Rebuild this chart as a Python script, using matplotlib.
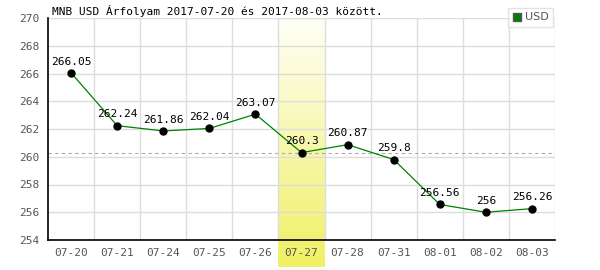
import matplotlib
matplotlib.use("Agg")
import matplotlib.pyplot as plt
import numpy as np
from matplotlib.transforms import blended_transform_factory
from matplotlib.lines import Line2D

categories = ["07-20", "07-21", "07-24", "07-25", "07-26", "07-27", "07-28", "07-31", "08-01", "08-02", "08-03"]
values = [266.05, 262.24, 261.86, 262.04, 263.07, 260.3, 260.87, 259.8, 256.56, 256, 256.26]
labels = ["266.05", "262.24", "261.86", "262.04", "263.07", "260.3", "260.87", "259.8", "256.56", "256", "256.26"]
highlight_index = 5
reference_value = 260.3
yticks = [254, 256, 258, 260, 262, 264, 266, 268, 270]
title = "MNB USD Árfolyam 2017-07-20 és 2017-08-03 között."

mono = "DejaVu Sans Mono"
fig = plt.figure(figsize=(6, 2.7), dpi=100)
ax = fig.add_axes([48/600, 30/270, 507/600, 222/270])
x = np.arange(len(categories))

ax.set_xlim(-0.5, len(categories) - 0.5)
ax.set_ylim(254, 270)

# highlight band with vertical gradient, extending below axes
trans = blended_transform_factory(ax.transData, ax.transAxes)
grad = np.linspace(0, 1, 256).reshape(-1, 1)
top = np.array([1.0, 1.0, 0.97])
bot = np.array([240/255, 240/255, 100/255])
img = top + (bot - top) * grad[:, :, None] * np.ones((1, 1, 3))
ax.imshow(img, extent=(highlight_index - 0.5, highlight_index + 0.5, -27/222, 1.0),
          transform=trans, aspect="auto", clip_on=False, zorder=0, origin="upper")

# grid
for b in np.arange(0.5, len(categories) - 0.5, 1.0):
    ax.axvline(b, color="#dddddd", lw=1, zorder=1)
ax.axvline(len(categories) - 0.5, color="#dddddd", lw=1, zorder=1)
for t in yticks[1:]:
    ax.axhline(t, color="#dddddd", lw=1, zorder=1)

ax.axhline(reference_value, color="#aaaaaa", lw=0.8, ls=(0, (3, 3)), zorder=2)

ax.plot(x, values, color="#008000", lw=0.9, zorder=3)
ax.plot(x, values, "o", color="black", ms=5, zorder=4)
for xi, v, lab in zip(x, values, labels):
    ax.text(xi, v + 0.45, lab, ha="center", va="bottom", fontsize=8,
            family=mono, color="black", zorder=5)

for s in ["top", "right"]:
    ax.spines[s].set_visible(False)
ax.spines["left"].set_color("black")
ax.spines["bottom"].set_color("black")
ax.spines["left"].set_linewidth(1.2)
ax.spines["bottom"].set_linewidth(1.2)

ax.set_xticks(x)
ax.set_xticklabels(categories, family=mono, fontsize=8, color="#555555")
ax.set_yticks(yticks)
ax.set_yticklabels([str(t) for t in yticks], family=mono, fontsize=8, color="#555555")
ax.tick_params(length=0, pad=6)

fig.text(52/600, 1 - 15/270, title, family=mono, fontsize=8, color="black", va="baseline")

handle = Line2D([], [], marker="s", ls="none", markerfacecolor="#008000",
                markeredgecolor="#555555", ms=6)
leg = fig.legend([handle], ["USD"], loc="upper right", bbox_to_anchor=(553/600, 1 - 8/270),
                 frameon=True, fancybox=False, fontsize=8, handlelength=0.8,
                 handletextpad=0.3, borderpad=0.4, borderaxespad=0)
leg.get_frame().set_edgecolor("#dddddd")
leg.get_frame().set_linewidth(1)
for t in leg.get_texts():
    t.set_color("#555555")

fig.savefig("out.png", dpi=100)
